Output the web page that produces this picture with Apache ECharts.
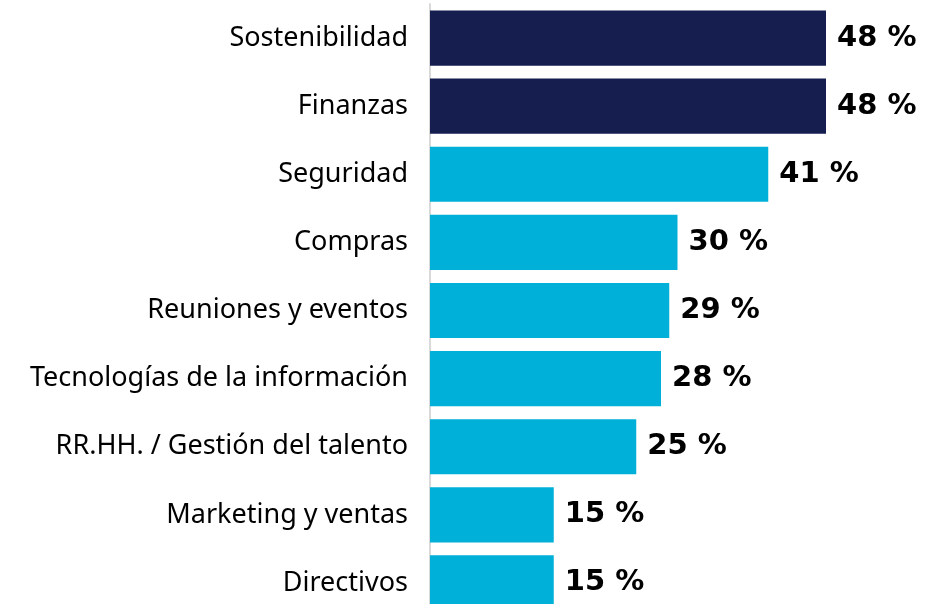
<!DOCTYPE html>
<html>
<head>
<meta charset="utf-8">
<script src="https://cdn.jsdelivr.net/npm/echarts@6/dist/echarts.min.js"></script>
<style>
  html, body { margin: 0; padding: 0; background: #fff; }
  #chart { width: 925px; height: 604px; }
</style>
</head>
<body>
<div id="chart"></div>
<script>
  // datos, de arriba a abajo
  const categories = [
    'Sostenibilidad',
    'Finanzas',
    'Seguridad',
    'Compras',
    'Reuniones y eventos',
    'Tecnologías de la información',
    'RR.HH. / Gestión del talento',
    'Marketing y ventas',
    'Directivos'
  ];
  const values = [48, 48, 41, 30, 29, 28, 25, 15, 15];
  const highlighted = [true, true, false, false, false, false, false, false, false];

  const NAVY = '#161d4f';
  const CYAN = '#00b0d8';

  const chart = echarts.init(document.getElementById('chart'));
  chart.setOption({
    animation: false,
    grid: {
      left: 430,
      top: 4,
      width: 495,
      height: 613,
      outerBoundsMode: 'none',
      containLabel: false
    },
    xAxis: {
      type: 'value',
      min: 0,
      max: 60,
      show: false
    },
    yAxis: {
      type: 'category',
      inverse: true,
      data: categories,
      axisTick: { show: false },
      axisLine: { show: true, lineStyle: { color: '#d9d9d9', width: 2 } },
      axisLabel: {
        margin: 22,
        color: '#000',
        fontFamily: 'Noto Sans',
        fontSize: 27
      }
    },
    series: [
      {
        type: 'bar',
        barCategoryGap: '19%',
        data: values.map((v, i) => ({
          value: v,
          itemStyle: { color: highlighted[i] ? NAVY : CYAN }
        })),
        label: {
          show: true,
          position: 'right',
          distance: 11,
          formatter: '{c} %',
          color: '#000',
          fontFamily: 'DejaVu Sans',
          fontWeight: 'bold',
          fontSize: 29
        }
      }
    ]
  });
</script>
</body>
</html>
